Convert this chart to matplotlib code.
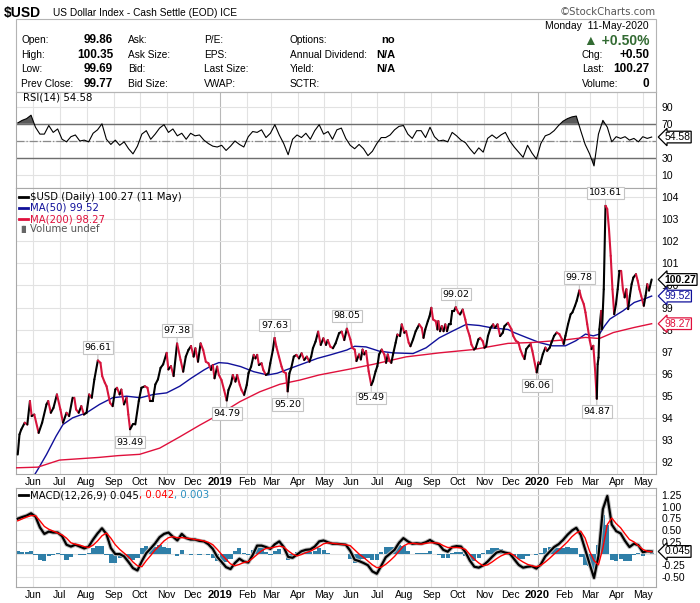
import numpy as np
import pandas as pd
import matplotlib
matplotlib.use('Agg')
import matplotlib.pyplot as plt
import matplotlib.dates as mdates
from matplotlib.collections import LineCollection
from matplotlib.lines import Line2D
from matplotlib.patches import Rectangle

# ---------------- data ----------------
first_day = '2018-05-14'
last_day = '2020-05-11'

price_dates = [
    '2018-05-14', '2018-05-16', '2018-05-18', '2018-05-22', '2018-05-25', '2018-05-28', '2018-05-30',
    '2018-06-02', '2018-06-07', '2018-06-11', '2018-06-16', '2018-06-18', '2018-06-21', '2018-06-24',
    '2018-06-28', '2018-07-02', '2018-07-05', '2018-07-09', '2018-07-12', '2018-07-16', '2018-07-18',
    '2018-07-20', '2018-07-23', '2018-07-26', '2018-07-29', '2018-08-01', '2018-08-04', '2018-08-07',
    '2018-08-10', '2018-08-14', '2018-08-17', '2018-08-19', '2018-08-22', '2018-08-24', '2018-08-28',
    '2018-08-31', '2018-09-03', '2018-09-05', '2018-09-08', '2018-09-10', '2018-09-13', '2018-09-16',
    '2018-09-18', '2018-09-20', '2018-09-23', '2018-09-26', '2018-09-30', '2018-10-03', '2018-10-07',
    '2018-10-10', '2018-10-13', '2018-10-16', '2018-10-19', '2018-10-22', '2018-10-25', '2018-10-28',
    '2018-11-01', '2018-11-03', '2018-11-06', '2018-11-09', '2018-11-13', '2018-11-17', '2018-11-20',
    '2018-11-23', '2018-11-26', '2018-11-29', '2018-12-02', '2018-12-04', '2018-12-07', '2018-12-10',
    '2018-12-13', '2018-12-16', '2018-12-19', '2018-12-22', '2018-12-24', '2018-12-26', '2018-12-29',
    '2018-12-31', '2019-01-03', '2019-01-06', '2019-01-09', '2019-01-11', '2019-01-14', '2019-01-16',
    '2019-01-19', '2019-01-21', '2019-01-24', '2019-01-26', '2019-01-29', '2019-02-01', '2019-02-03',
    '2019-02-06', '2019-02-09', '2019-02-11', '2019-02-13', '2019-02-15', '2019-02-18', '2019-02-20',
    '2019-02-23', '2019-02-26', '2019-02-28', '2019-03-03', '2019-03-05', '2019-03-07', '2019-03-10',
    '2019-03-13', '2019-03-15', '2019-03-18', '2019-03-20', '2019-03-22', '2019-03-24', '2019-03-27',
    '2019-03-30', '2019-04-02', '2019-04-05', '2019-04-08', '2019-04-11', '2019-04-14', '2019-04-16',
    '2019-04-18', '2019-04-21', '2019-04-24', '2019-04-27', '2019-04-30', '2019-05-03', '2019-05-05',
    '2019-05-08', '2019-05-11', '2019-05-14', '2019-05-18', '2019-05-21', '2019-05-24', '2019-05-27',
    '2019-05-31', '2019-06-02', '2019-06-05', '2019-06-07', '2019-06-10', '2019-06-12', '2019-06-14',
    '2019-06-16', '2019-06-18', '2019-06-21', '2019-06-24', '2019-06-26', '2019-06-29', '2019-07-01',
    '2019-07-03', '2019-07-06', '2019-07-09', '2019-07-11', '2019-07-13', '2019-07-15', '2019-07-17',
    '2019-07-19', '2019-07-22', '2019-07-24', '2019-07-27', '2019-07-29', '2019-08-01', '2019-08-03',
    '2019-08-06', '2019-08-08', '2019-08-11', '2019-08-14', '2019-08-16', '2019-08-18', '2019-08-21',
    '2019-08-23', '2019-08-25', '2019-08-28', '2019-08-30', '2019-09-01', '2019-09-03', '2019-09-06',
    '2019-09-08', '2019-09-09', '2019-09-11', '2019-09-13', '2019-09-15', '2019-09-17', '2019-09-19',
    '2019-09-21', '2019-09-23', '2019-09-25', '2019-09-27', '2019-09-29', '2019-10-02', '2019-10-04',
    '2019-10-07', '2019-10-10', '2019-10-12', '2019-10-15', '2019-10-17', '2019-10-20', '2019-10-22',
    '2019-10-25', '2019-10-27', '2019-10-30', '2019-11-01', '2019-11-03', '2019-11-05', '2019-11-08',
    '2019-11-11', '2019-11-13', '2019-11-16', '2019-11-19', '2019-11-22', '2019-11-24', '2019-11-28',
    '2019-12-02', '2019-12-04', '2019-12-07', '2019-12-10', '2019-12-12', '2019-12-15', '2019-12-17',
    '2019-12-19', '2019-12-22', '2019-12-24', '2019-12-26', '2019-12-29', '2019-12-31', '2020-01-02',
    '2020-01-04', '2020-01-07', '2020-01-10', '2020-01-12', '2020-01-15', '2020-01-17', '2020-01-20',
    '2020-01-23', '2020-01-26', '2020-01-29', '2020-01-31', '2020-02-02', '2020-02-05', '2020-02-08',
    '2020-02-10', '2020-02-13', '2020-02-15', '2020-02-18', '2020-02-20', '2020-02-23', '2020-02-25',
    '2020-02-27', '2020-03-01', '2020-03-03', '2020-03-05', '2020-03-07', '2020-03-09', '2020-03-10',
    '2020-03-11', '2020-03-12', '2020-03-14', '2020-03-15', '2020-03-17', '2020-03-19', '2020-03-21',
    '2020-03-23', '2020-03-25', '2020-03-27', '2020-03-29', '2020-03-31', '2020-04-02', '2020-04-04',
    '2020-04-06', '2020-04-08', '2020-04-10', '2020-04-12', '2020-04-14', '2020-04-16', '2020-04-18',
    '2020-04-20', '2020-04-23', '2020-04-25', '2020-04-27', '2020-04-29', '2020-04-30', '2020-05-02',
    '2020-05-04', '2020-05-06', '2020-05-08', '2020-05-11']
price_vals = [
    92.35, 93.26, 93.48, 93.79, 93.71, 94.77, 94.09,
    94.16, 93.33, 93.79, 94.62, 94.77, 94.24, 94.46,
    95.07, 94.39, 93.79, 94.24, 94.09, 94.92, 94.92,
    94.39, 94.24, 94.54, 94.16, 94.24, 95.07, 94.92,
    95.75, 96.61, 96.50, 95.90, 95.60, 95.44, 94.69,
    94.54, 95.29, 95.37, 95.07, 95.29, 94.62, 94.92,
    94.16, 93.49, 93.71, 93.71, 94.77, 95.37, 95.44,
    95.37, 94.77, 94.77, 95.52, 95.75, 96.27, 96.43,
    96.95, 96.20, 96.35, 95.90, 97.38, 96.63, 96.10,
    96.78, 97.08, 97.26, 96.78, 97.16, 96.55, 97.38,
    97.08, 96.55, 96.48, 96.18, 96.40, 95.80, 96.33,
    95.95, 95.72, 95.27, 94.79, 95.27, 95.57, 95.95,
    95.65, 95.95, 95.50, 95.27, 95.05, 95.50, 96.03,
    96.33, 96.86, 96.70, 96.86, 96.40, 96.48, 96.18,
    95.95, 96.03, 96.48, 97.08, 97.63, 97.23, 96.78,
    96.33, 96.10, 96.03, 95.20, 96.03, 96.25, 96.78,
    96.86, 96.70, 96.93, 96.63, 96.78, 96.55, 96.78,
    97.16, 97.46, 97.91, 97.31, 97.61, 97.31, 97.53,
    97.23, 97.16, 97.38, 97.84, 97.91, 97.53, 98.05,
    97.56, 97.18, 97.10, 96.58, 96.88, 96.65, 97.10,
    96.88, 97.03, 96.12, 95.49, 95.67, 96.12, 96.35,
    96.88, 97.10, 96.88, 96.50, 96.88, 96.58, 96.50,
    96.88, 97.41, 97.78, 97.71, 98.24, 97.86, 97.93,
    97.41, 97.25, 97.56, 97.93, 98.08, 98.24, 98.08,
    97.63, 98.01, 98.39, 98.61, 98.99, 98.46, 98.39,
    98.01, 98.39, 97.93, 98.16, 97.93, 98.24, 97.93,
    98.24, 98.24, 98.84, 98.84, 99.02, 98.76, 98.69,
    98.91, 98.46, 98.08, 97.71, 97.33, 97.10, 97.18,
    97.56, 97.63, 97.48, 97.18, 97.25, 97.71, 98.08,
    98.24, 98.08, 98.24, 97.71, 97.86, 98.16, 98.31,
    98.02, 97.72, 97.50, 97.42, 97.12, 96.82, 96.67,
    97.12, 97.27, 97.35, 97.04, 96.44, 96.06, 96.52,
    96.44, 96.89, 97.19, 97.04, 97.19, 97.42, 97.72,
    97.87, 97.80, 97.57, 97.35, 97.72, 98.25, 98.70,
    98.78, 99.08, 99.31, 99.78, 99.46, 99.16, 98.78,
    98.25, 97.50, 97.12, 97.27, 96.21, 94.87, 96.44,
    96.74, 98.02, 98.85, 98.02, 99.83, 103.61, 103.46,
    102.55, 101.34, 99.83, 98.70, 99.16, 99.83, 100.66,
    100.66, 99.83, 99.46, 99.83, 98.93, 99.53, 100.06,
    100.36, 100.51, 100.21, 99.83, 99.53, 99.38, 99.08,
    99.53, 100.06, 99.77, 100.27]

ma50_dates = [
    '2018-05-25', '2018-06-06', '2018-06-16', '2018-06-27', '2018-07-05', '2018-07-16', '2018-08-01',
    '2018-08-16', '2018-08-31', '2018-09-16', '2018-10-02', '2018-10-17', '2018-11-01', '2018-11-16',
    '2018-11-29', '2018-12-14', '2018-12-24', '2018-12-31', '2019-01-10', '2019-01-25', '2019-02-09',
    '2019-02-25', '2019-03-08', '2019-03-23', '2019-04-08', '2019-04-23', '2019-05-08', '2019-05-27',
    '2019-06-05', '2019-06-18', '2019-07-03', '2019-07-19', '2019-08-11', '2019-08-26', '2019-09-10',
    '2019-09-25', '2019-10-11', '2019-10-26', '2019-11-10', '2019-11-28', '2019-12-05', '2019-12-19',
    '2020-01-03', '2020-01-18', '2020-02-02', '2020-02-14', '2020-02-25', '2020-03-05', '2020-03-12',
    '2020-03-18', '2020-03-24', '2020-03-30', '2020-04-08', '2020-04-21', '2020-05-02', '2020-05-11']
ma50_vals = [
    90.90, 91.67, 92.35, 93.18, 93.71, 94.01, 94.24,
    94.62, 94.92, 94.99, 94.92, 95.07, 95.14, 95.44,
    95.80, 96.18, 96.40, 96.51, 96.48, 96.33, 96.10,
    95.95, 96.03, 96.25, 96.48, 96.70, 96.86, 97.08,
    97.25, 97.22, 97.03, 96.95, 96.92, 97.18, 97.63,
    97.93, 98.24, 98.19, 98.08, 98.01, 97.87, 97.65,
    97.42, 97.27, 97.27, 97.50, 97.80, 97.72, 97.80,
    98.17, 98.48, 98.63, 98.85, 99.23, 99.38, 99.52]

ma200_dates = [
    '2018-05-12', '2018-06-06', '2018-07-01', '2018-08-15', '2018-09-06', '2018-10-01', '2018-10-24',
    '2018-11-16', '2018-12-09', '2019-01-01', '2019-01-24', '2019-02-16', '2019-03-11', '2019-04-03',
    '2019-04-25', '2019-05-28', '2019-06-26', '2019-08-03', '2019-09-10', '2019-10-19', '2019-11-28',
    '2019-12-26', '2020-02-02', '2020-02-25', '2020-03-12', '2020-03-28', '2020-04-21', '2020-05-11']
ma200_vals = [
    91.75, 91.78, 92.10, 92.22, 92.30, 92.36, 92.64,
    93.15, 93.68, 94.18, 94.74, 95.19, 95.53, 95.72,
    95.95, 96.20, 96.43, 96.77, 96.95, 97.10, 97.38,
    97.42, 97.54, 97.65, 97.60, 97.87, 98.10, 98.27]

# RSI / MACD read at evenly spaced sessions from first_day to last_day
rsi_vals = [
    71, 74, 76, 80, 66, 58, 58, 68, 60, 64,
    52, 49, 55, 57, 50, 51, 49, 59, 63, 70,
    52, 46, 51, 45, 49, 41, 35, 44, 58, 62,
    52, 58, 65, 69, 60, 64, 56, 59, 52, 59,
    56, 57, 51, 47, 44, 43, 45, 39, 44, 50,
    46, 43, 55, 61, 60, 63, 54, 59, 69, 57,
    47, 34, 52, 57, 54, 59, 52, 62, 69, 58,
    61, 52, 63, 65, 53, 45, 41, 46, 41, 33,
    38, 47, 54, 54, 57, 63, 67, 68, 58, 53,
    62, 62, 54, 66, 55, 50, 51, 49, 60, 56,
    51, 48, 41, 35, 42, 37, 53, 57, 53, 57,
    60, 50, 43, 37, 31, 45, 36, 29, 47, 56,
    58, 62, 68, 73, 76, 78, 79, 62, 46, 35,
    21, 58, 74, 66, 49, 55, 53, 55, 51, 53,
    49, 55, 53, 54.58]

macd_vals = [
    0.745, 0.78, 0.81, 0.86, 0.79, 0.56, 0.42, 0.47, 0.45, 0.45,
    0.37, 0.19, 0.15, 0.19, 0.15, 0.11, 0.15, 0.30, 0.43, 0.54,
    0.42, 0.12, -0.01, -0.01, -0.06, -0.18, -0.31, -0.36, -0.16, 0.01,
    0.11, 0.22, 0.35, 0.42, 0.45, 0.36, 0.28, 0.42, 0.33, 0.30,
    0.30, 0.27, 0.26, 0.20, 0.10, -0.07, -0.18, -0.29, -0.33, -0.20,
    -0.11, -0.17, -0.19, -0.03, 0.17, 0.17, 0.14, 0.10, 0.20, 0.26,
    0.14, -0.07, -0.09, -0.02, 0.05, 0.08, 0.09, 0.15, 0.26, 0.28,
    0.24, 0.21, 0.21, 0.20, 0.19, 0.06, -0.13, -0.16, -0.20, -0.25,
    -0.38, -0.43, -0.26, -0.08, 0.00, 0.08, 0.23, 0.33, 0.26, 0.21,
    0.22, 0.21, 0.24, 0.29, 0.23, 0.20, 0.08, 0.04, 0.14, 0.16,
    0.15, 0.03, -0.15, -0.28, -0.30, -0.25, -0.17, -0.07, 0.02, 0.05,
    0.02, 0.00, -0.12, -0.24, -0.30, -0.28, -0.27, -0.32, -0.23, -0.06,
    0.04, 0.14, 0.20, 0.29, 0.40, 0.49, 0.55, 0.40, 0.09, -0.22,
    -0.52, -0.05, 0.95, 1.23, 0.62, 0.48, 0.43, 0.27, 0.14, 0.21,
    0.18, 0.03, 0.05, 0.045]

signal_vals = [
    0.70, 0.74, 0.78, 0.81, 0.81, 0.70, 0.58, 0.52, 0.48, 0.44,
    0.40, 0.33, 0.23, 0.20, 0.18, 0.15, 0.13, 0.18, 0.27, 0.38,
    0.44, 0.33, 0.19, 0.09, 0.01, -0.07, -0.18, -0.26, -0.28, -0.15,
    -0.04, 0.08, 0.17, 0.27, 0.34, 0.36, 0.34, 0.34, 0.33, 0.32,
    0.30, 0.29, 0.27, 0.24, 0.19, 0.09, -0.02, -0.12, -0.22, -0.26,
    -0.23, -0.19, -0.17, -0.10, -0.02, 0.06, 0.11, 0.12, 0.14, 0.16,
    0.14, 0.06, -0.01, -0.05, -0.02, 0.02, 0.05, 0.10, 0.15, 0.21,
    0.23, 0.22, 0.21, 0.20, 0.19, 0.17, 0.08, -0.01, -0.08, -0.16,
    -0.24, -0.30, -0.29, -0.23, -0.15, -0.06, 0.05, 0.16, 0.21, 0.22,
    0.21, 0.20, 0.22, 0.23, 0.23, 0.22, 0.17, 0.13, 0.13, 0.13,
    0.12, 0.09, -0.02, -0.12, -0.20, -0.26, -0.24, -0.18, -0.11, -0.05,
    -0.01, 0.01, -0.04, -0.12, -0.18, -0.23, -0.26, -0.28, -0.25, -0.18,
    -0.10, -0.01, 0.07, 0.16, 0.25, 0.36, 0.44, 0.48, 0.33, 0.05,
    -0.15, -0.24, 0.12, 0.62, 0.76, 0.64, 0.55, 0.42, 0.30, 0.25,
    0.17, 0.09, 0.05, 0.042]

# labelled swing highs / lows (1 = label above, -1 = below)
peak_dates = ['2018-08-14', '2018-09-20', '2018-11-13', '2019-01-09', '2019-03-05', '2019-03-20',
              '2019-05-27', '2019-06-24', '2019-09-29', '2019-12-31', '2020-02-18', '2020-03-09',
              '2020-03-19']
peak_side = [1, -1, 1, -1, 1, -1, 1, -1, 1, -1, 1, -1, 1]

# ---------------- figure ----------------
plt.rcParams['font.family'] = ['Liberation Sans', 'DejaVu Sans']
W, H = 700, 603
fig = plt.figure(figsize=(7, 6.03), dpi=100)
fig.patch.set_facecolor('white')

def rect(x0, y0, x1, y1):
    return [x0 / W, 1 - y1 / H, (x1 - x0) / W, (y1 - y0) / H]

def ftext(x, y, s, **kw):
    return fig.text(x / W, 1 - y / H, s, **kw)

ax_rsi = fig.add_axes(rect(16, 92, 656, 188))
ax = fig.add_axes(rect(16, 188, 656, 474))
ax_macd = fig.add_axes(rect(16, 488, 656, 587))

UP = 'black'
DOWN = '#d7143c'
NAVY = '#10109a'
RED = '#e0103c'
HIST = '#2f7fa8'
GRID = '#e2e2e2'

xlim = mdates.date2num(pd.to_datetime(['2018-05-12', '2020-05-16']))
months = pd.date_range('2018-06-01', '2020-05-01', freq='MS')
month_num = mdates.date2num(months)
month_lab = [str(m.year) if m.month == 1 else m.strftime('%b') for m in months]

for a in (ax_rsi, ax, ax_macd):
    a.set_xlim(xlim)
    for sp in a.spines.values():
        sp.set_color('#a8a8a8')
        sp.set_linewidth(0.8)
    a.yaxis.tick_right()
    a.tick_params(axis='y', length=0, labelsize=7.5, pad=4)
    a.tick_params(axis='x', length=0, labelsize=7.5, pad=2)
    a.set_axisbelow(True)
    a.grid(axis='y', color=GRID, lw=0.8)
    for m, t in zip(months, month_num):
        a.axvline(t, color='#b8b8b8' if m.month == 1 else GRID, lw=0.8, zorder=0)
    a.set_xticks(month_num)
    a.set_xticklabels(month_lab)
    for lab, m in zip(a.get_xticklabels(), months):
        if m.month == 1:
            lab.set_fontweight('bold')
            lab.set_fontsize(8)
ax_rsi.tick_params(axis='x', labelbottom=False)

def value_tag(a, y, s, color, weight='normal'):
    a.annotate(s, xy=(1, y), xycoords=('axes fraction', 'data'), xytext=(6, 0),
               textcoords='offset points', ha='left', va='center', fontsize=7.5,
               color=color, fontweight=weight, annotation_clip=False, zorder=10,
               bbox=dict(boxstyle='larrow,pad=0.08', fc='white', ec=color, lw=0.9))

# ---- RSI ----
rsi_dates = mdates.date2num(pd.date_range(first_day, last_day, periods=len(rsi_vals)))
rsi = np.array(rsi_vals, dtype=float)
ax_rsi.set_ylim(-4.7, 107)
ax_rsi.set_yticks([10, 30, 50, 70, 90])
ax_rsi.set_yticklabels(['10', '30', '', '70', '90'])   # 50 sits under the value tag
ax_rsi.axhline(70, color='#6e6e6e', lw=1)
ax_rsi.axhline(30, color='#6e6e6e', lw=1)
ax_rsi.axhline(50, color='#8a8a8a', lw=0.9, ls='-.')
ax_rsi.fill_between(rsi_dates, rsi, 70, where=rsi > 70, interpolate=True, color='#5a5a5a', lw=0)
ax_rsi.fill_between(rsi_dates, rsi, 30, where=rsi < 30, interpolate=True, color='#5a5a5a', lw=0)
ax_rsi.plot(rsi_dates, rsi, color='black', lw=0.8)
value_tag(ax_rsi, rsi_vals[-1], f'{rsi_vals[-1]:.2f}', 'black')
ftext(23, 97, f'RSI(14) {rsi_vals[-1]:.2f}', fontsize=7.3, family='DejaVu Sans', va='center')

# ---- price ----
px = mdates.date2num(pd.to_datetime(price_dates))
py = np.array(price_vals)
segs = np.stack([np.column_stack([px[:-1], py[:-1]]), np.column_stack([px[1:], py[1:]])], axis=1)
cols = [UP if b >= a else DOWN for a, b in zip(py[:-1], py[1:])]
lc = LineCollection(segs, colors=cols, linewidths=1.5, capstyle='round', joinstyle='round', zorder=4)
ax.add_collection(lc)
ax.plot(mdates.date2num(pd.to_datetime(ma50_dates)), ma50_vals, color=NAVY, lw=1, zorder=3)
ax.plot(mdates.date2num(pd.to_datetime(ma200_dates)), ma200_vals, color=RED, lw=1, zorder=3)
ax.set_ylim(91.47, 104.41)
ax.set_yticks(range(92, 105))

for d, side in zip(peak_dates, peak_side):
    i = price_dates.index(d)
    ax.annotate(f'{price_vals[i]:.2f}', xy=(px[i], price_vals[i]), xytext=(0, 6 * side),
                textcoords='offset points', ha='center', va='bottom' if side > 0 else 'top',
                fontsize=6.8, family='DejaVu Sans', zorder=6,
                bbox=dict(boxstyle='square,pad=0.18', fc='white', ec='#c4c4c4', lw=0.8),
                arrowprops=dict(arrowstyle='-', color='#c4c4c4', lw=0.8, shrinkA=0, shrinkB=1))

value_tag(ax, price_vals[-1], f'{price_vals[-1]:.2f}', 'black', 'bold')
value_tag(ax, ma50_vals[-1], f'{ma50_vals[-1]:.2f}', NAVY)
value_tag(ax, ma200_vals[-1], f'{ma200_vals[-1]:.2f}', RED)

leg = [(197, f'$USD (Daily) {price_vals[-1]:.2f} (11 May)', 'black', 'black'),
       (208, f'MA(50) {ma50_vals[-1]:.2f}', NAVY, NAVY),
       (219, f'MA(200) {ma200_vals[-1]:.2f}', RED, RED)]
for y, s, lc_, tc in leg:
    fig.add_artist(Line2D([19 / W, 28 / W], [1 - y / H] * 2, color=lc_, lw=2))
    ftext(30, y, s, fontsize=7.3, family='DejaVu Sans', color=tc, va='center')
ftext(18, 229, '\u2590\u258c', fontsize=5, color='#666666', va='center', family='DejaVu Sans')
ftext(30, 229, 'Volume undef', fontsize=7.3, family='DejaVu Sans', color='#555555', va='center')

# ---- MACD ----
md = mdates.date2num(pd.date_range(first_day, last_day, periods=len(macd_vals)))
macd = np.array(macd_vals)
sig = np.array(signal_vals)
hist = macd - sig
ax_macd.bar(md, hist, width=(md[1] - md[0]) * 0.95, color=HIST, lw=0, zorder=2)
ax_macd.plot(md, macd, color='#bbbbbb', lw=3.0, zorder=3)
ax_macd.plot(md, macd, color='black', lw=1.6, zorder=4)
ax_macd.plot(md, sig, color='red', lw=1, zorder=5)
ax_macd.set_ylim(-0.713, 1.40)
macd_ticks = [-0.5, -0.25, 0, 0.25, 0.5, 0.75, 1.0, 1.25]
ax_macd.set_yticks(macd_ticks)
ax_macd.set_yticklabels(['' if v == 0 else f'{v:.2f}' for v in macd_ticks])  # 0 under the tag
value_tag(ax_macd, macd_vals[-1], f'{macd_vals[-1]:.3f}', 'black')

fig.add_artist(Line2D([19 / W, 28 / W], [1 - 495 / H] * 2, color='black', lw=2))
renderer = fig.canvas.get_renderer()
xpos = 30
for s, c in [(f'MACD(12,26,9) {macd_vals[-1]:.3f}', 'black'),
             (f', {signal_vals[-1]:.3f}', 'red'),
             (f', {macd_vals[-1] - signal_vals[-1]:.3f}', '#2a8fc0')]:
    t = ftext(xpos, 495, s, fontsize=7.3, family='DejaVu Sans', color=c, va='center')
    xpos += t.get_window_extent(renderer).width

# ---- header ----
ftext(4, 13, '$USD', fontsize=10, fontweight='bold', va='center')
ftext(53, 13, 'US Dollar Index - Cash Settle (EOD) ICE', fontsize=7.3, va='center')
ftext(656, 12, '\u00a9StockCharts.com', fontsize=7.3, color='#555555', ha='right', va='center',
      family='DejaVu Sans')
fig.add_artist(Rectangle((16 / W, 1 - 92 / H), 640 / W, 73 / H, transform=fig.transFigure,
                         fill=False, ec='#b4b4b4', lw=0.8))

rows = [40, 55, 69, 84]
col1 = ['Open:', 'High:', 'Low:', 'Prev Close:']
col1v = ['99.86', '100.35', '99.69', '99.77']
col2 = ['Ask:', 'Ask Size:', 'Bid:', 'Bid Size:']
col3 = ['P/E:', 'EPS:', 'Last Size:', 'VWAP:']
col4 = ['Options:', 'Annual Dividend:', 'Yield:', 'SCTR:']
col4v = ['no', 'N/A', 'N/A', '']
for y, a, av, b, c, d, dv in zip(rows, col1, col1v, col2, col3, col4, col4v):
    ftext(21, y, a, fontsize=7.3, va='center')
    ftext(113, y, av, fontsize=8.5, fontweight='bold', ha='right', va='center')
    ftext(128, y, b, fontsize=7.3, va='center')
    ftext(204, y, c, fontsize=7.3, va='center')
    ftext(290, y, d, fontsize=7.3, va='center')
    ftext(395, y, dv, fontsize=8, fontweight='bold', ha='right', va='center')

ftext(649, 26, 'Monday  11-May-2020', fontsize=7.5, ha='right', va='center')
ftext(649, 41, '\u25b2 +0.50%', fontsize=10, fontweight='bold', color='#336b33', ha='right', va='center')
for y, lab, val in [(55, 'Chg:', '+0.50'), (69, 'Last:', '100.27'), (84, 'Volume:', '0')]:
    ftext(582, y, lab, fontsize=7.3, va='center')
    ftext(649, y, val, fontsize=8.5, fontweight='bold', ha='right', va='center')

fig.savefig('out.png', dpi=100)
